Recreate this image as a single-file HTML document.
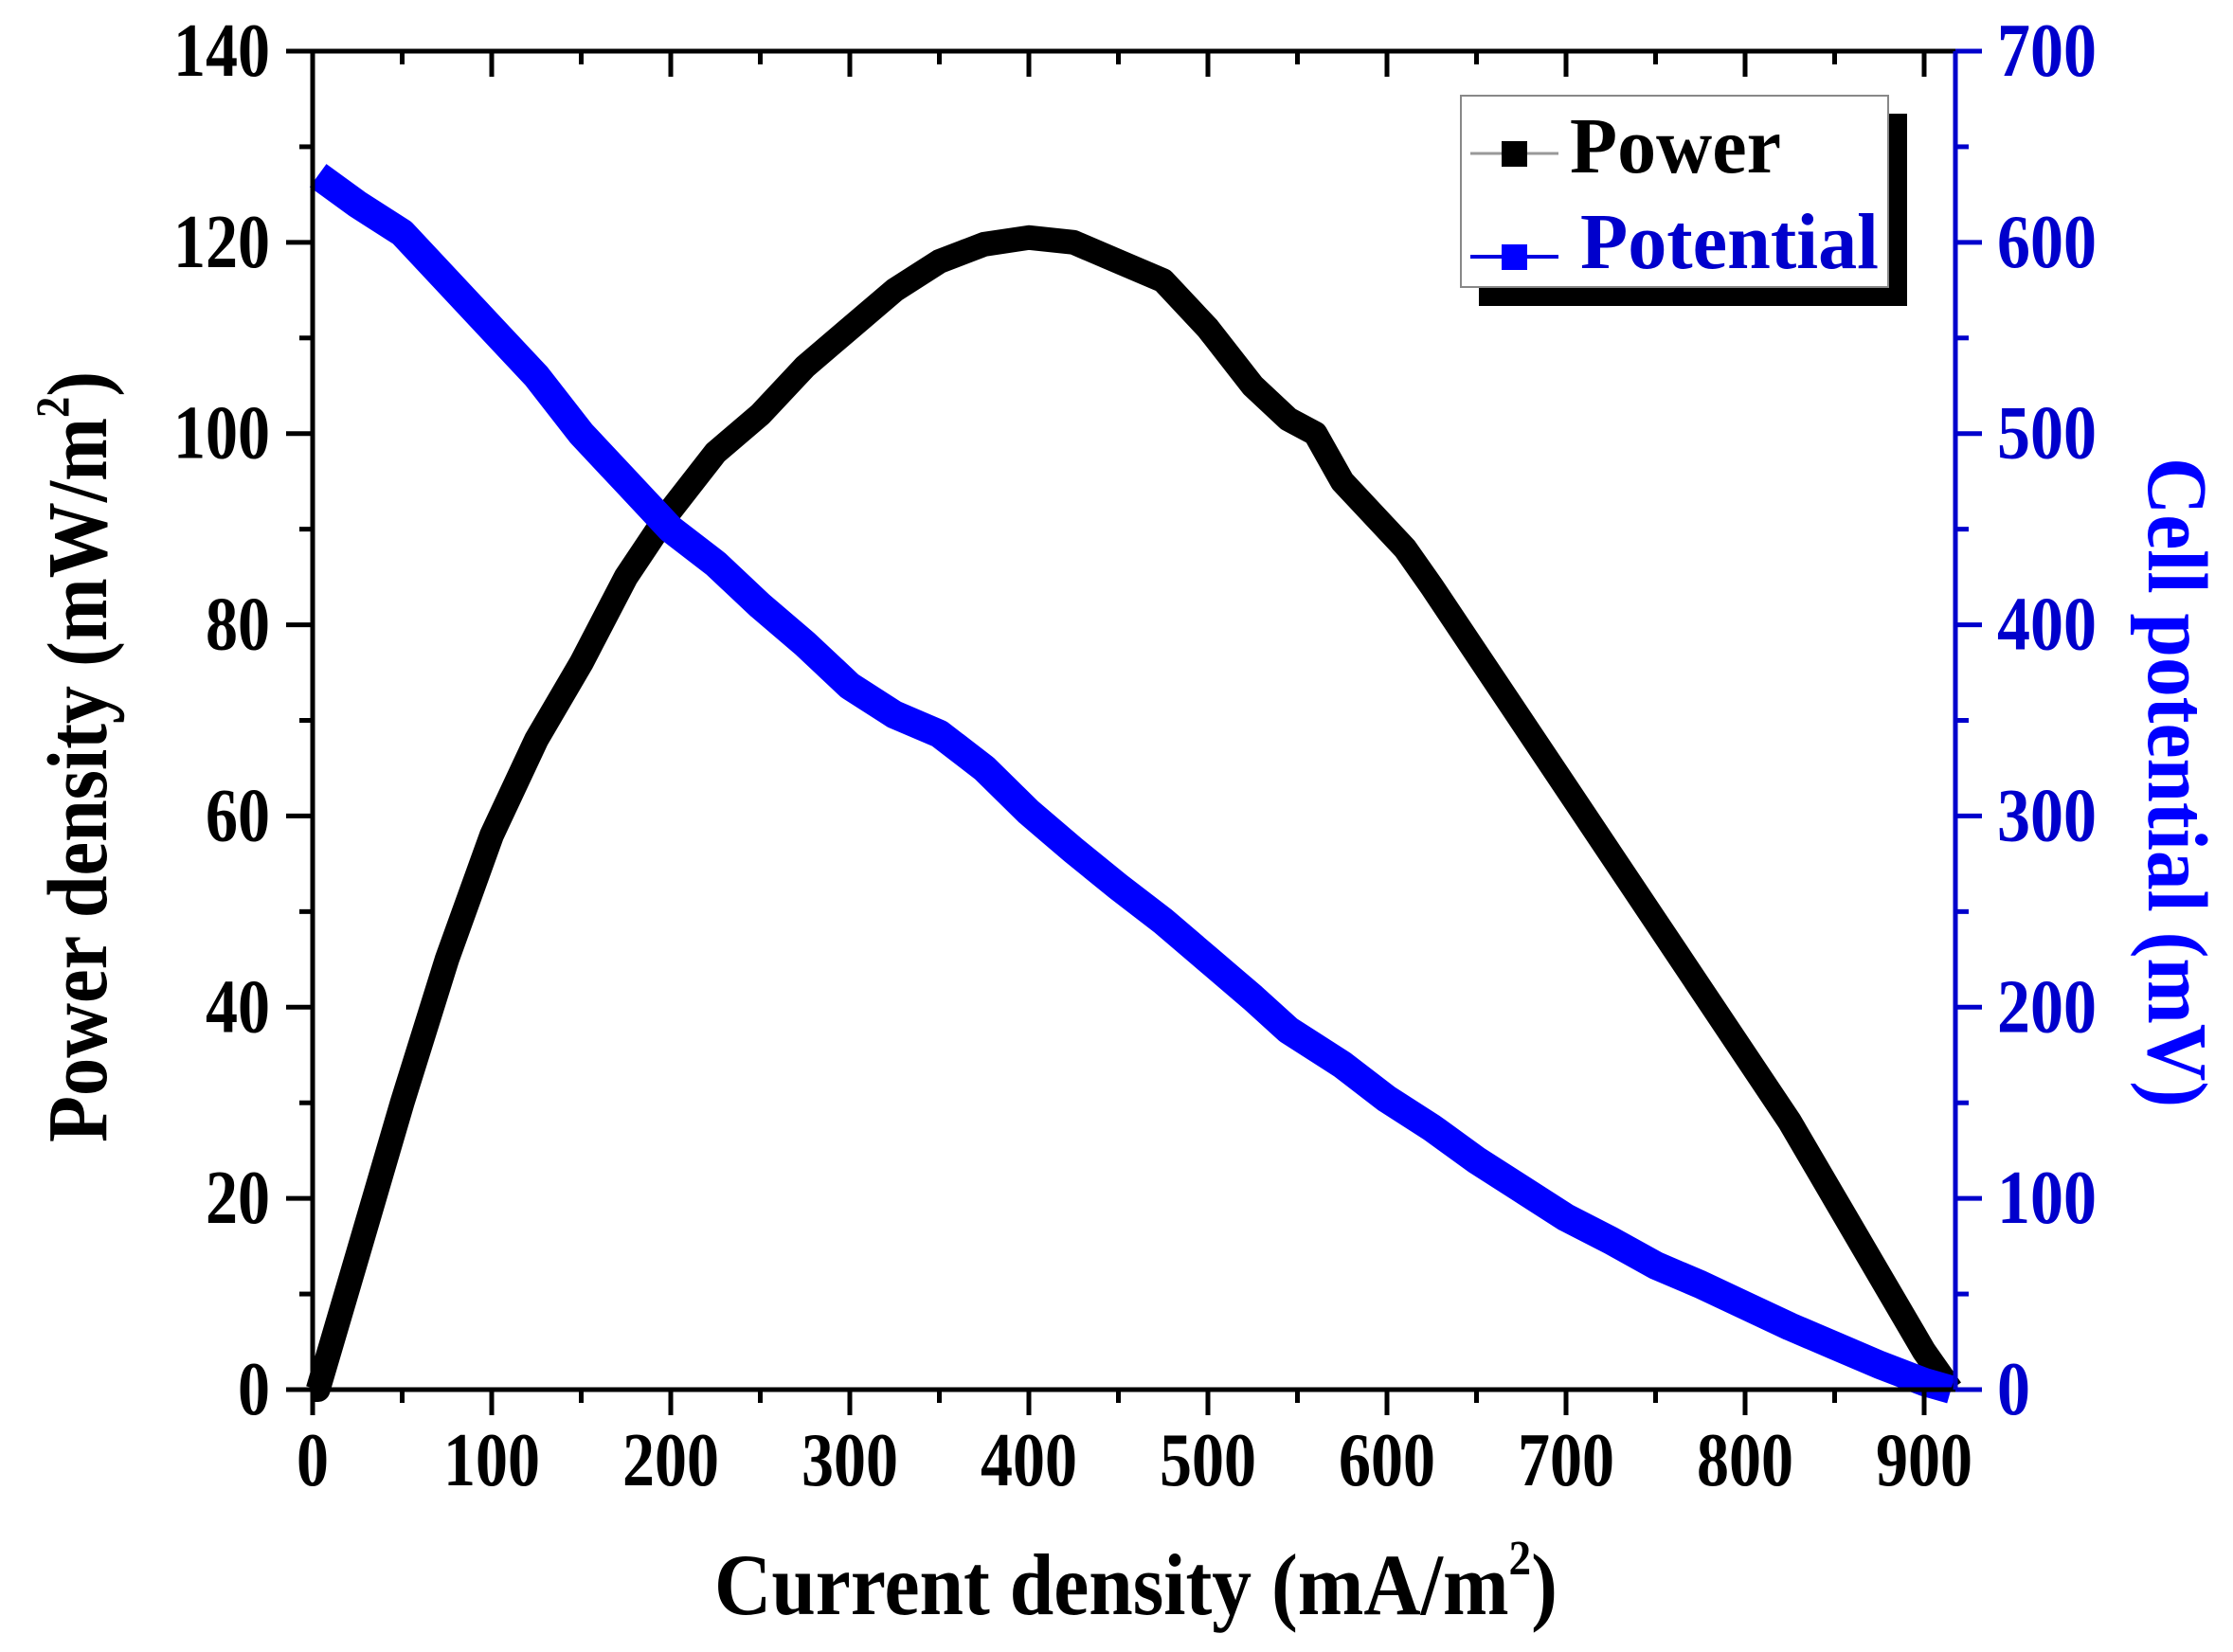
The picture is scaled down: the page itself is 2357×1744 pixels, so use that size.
<!DOCTYPE html>
<html><head><meta charset="utf-8"><style>
html,body{margin:0;padding:0;background:#fff;}
svg{display:block;}
text{font-family:"Liberation Serif",serif;font-weight:bold;}
</style></head><body>
<svg id="chart" width="2357" height="1744" viewBox="0 0 2357 1744" xmlns="http://www.w3.org/2000/svg">
<g id="series"></g>
<g id="axes"></g>
<g>
  <rect x="1561" y="120" width="452" height="203" fill="#000"/>
  <rect x="1542" y="101" width="451" height="202" fill="#fff" stroke="#888" stroke-width="2"/>
  <line x1="1552" y1="162" x2="1645" y2="162" stroke="#999" stroke-width="3"/>
  <rect x="1585" y="149" width="27" height="27" fill="#000"/>
  <text x="1657" y="182" font-size="84" textLength="223" lengthAdjust="spacingAndGlyphs" fill="#000">Power</text>
  <line x1="1552" y1="271" x2="1645" y2="271" stroke="#0000e0" stroke-width="4"/>
  <rect x="1585" y="258" width="27" height="27" fill="#0000ff"/>
  <text x="1668" y="283" font-size="84" textLength="315" lengthAdjust="spacingAndGlyphs" fill="#0000cc">Potential</text>
</g>
<text x="754" y="1704" font-size="92" textLength="890" lengthAdjust="spacingAndGlyphs">Current density (mA/m<tspan font-size="52" dy="-42">2</tspan><tspan dy="42">)</tspan></text>
<text transform="translate(112,1206) rotate(-90)" font-size="90" textLength="814" lengthAdjust="spacingAndGlyphs">Power density (mW/m<tspan font-size="50" dy="-40">2</tspan><tspan dy="40">)</tspan></text>
<text transform="translate(2268,483) rotate(90)" font-size="90" textLength="686" lengthAdjust="spacingAndGlyphs" fill="#0000ff">Cell potential (mV)</text>
</svg>
<script>
const currentX = [0,3,25,50,75,100,125,150,175,200,225,250,275,300,325,350,375,400,425,450,475,500,525,545,560,575,590,610,625,650,675,700,725,750,775,800,825,850,875,900,915];
const powerY = [0,0,14,30,45,58,68,76,85,92,98,102,107,111,115,118,119.8,120.5,120,118,116,111,105,101.5,100,95,92,88,84,77,70,63,56,49,42,35,28,20,12,4,0];
const potentialX = [3,25,50,75,100,125,150,175,200,225,250,275,300,325,350,375,400,425,450,475,500,525,545,575,600,625,650,675,700,725,750,775,800,825,850,875,900,915];
const potentialY = [635,620,605,580,555,530,500,475,450,432,410,390,368,353,343,325,302,282,263,245,225,205,188,170,152,137,120,105,90,78,65,55,44,33,23,13,4,0];
const xTicks = [0,100,200,300,400,500,600,700,800,900];
const yLeftTicks = [0,20,40,60,80,100,120,140];
const yRightTicks = [0,100,200,300,400,500,600,700];

const X0=330, X1=2064, Y0=1467, Y1=54;
const xMax=(X1-X0)/((2031-X0)/900);
const sx=v=>X0+v*(X1-X0)/xMax;
const syL=v=>Y0-v*(Y0-Y1)/140;
const syR=v=>Y0-v*(Y0-Y1)/700;
const NS='http://www.w3.org/2000/svg';
function mk(tag,attrs,parent){const e=document.createElementNS(NS,tag);for(const k in attrs)e.setAttribute(k,attrs[k]);parent.appendChild(e);return e;}
const series=document.getElementById('series');
const axes=document.getElementById('axes');

let p1=mk('polyline',{points:currentX.map((x,i)=>sx(x)+','+syL(powerY[i])).join(' '),fill:'none',stroke:'#000','stroke-width':26,'stroke-linejoin':'round'},series);


let p2=mk('polyline',{points:potentialX.map((x,i)=>sx(x)+','+syR(potentialY[i])).join(' '),fill:'none',stroke:'#0000ff','stroke-width':30,'stroke-linejoin':'round'},series);



let f;
f=mk('line',{x1:X0,y1:Y0,x2:X1,y2:Y0,stroke:'#000','stroke-width':5},axes);


f=mk('line',{x1:X0,y1:Y1,x2:X1,y2:Y1,stroke:'#000','stroke-width':5},axes);


f=mk('line',{x1:X0,y1:Y0,x2:X0,y2:Y1,stroke:'#000','stroke-width':5},axes);


f=mk('line',{x1:X1,y1:Y0,x2:X1,y2:Y1,stroke:'#0000cc','stroke-width':5},axes);



for(let v=0;v<=900;v+=50){const maj=v%100===0;const x=sx(v);
 let t=mk('line',{x1:x,y1:Y0,x2:x,y2:Y0+(maj?27:14),stroke:'#000','stroke-width':5},axes);
 
 
 let t2=mk('line',{x1:x,y1:Y1,x2:x,y2:Y1+(maj?27:14),stroke:'#000','stroke-width':5},axes);
 
 }
xTicks.forEach(v=>{const s=String(v);let t=mk('text',{x:sx(v)-s.length*17,y:1568,'font-size':80,textLength:s.length*34,lengthAdjust:'spacingAndGlyphs'},axes);t.textContent=s;
 
 });
for(let v=0;v<=140;v+=10){const maj=v%20===0;const y=syL(v);
 let t=mk('line',{x1:X0-(maj?28:14),y1:y,x2:X0,y2:y,stroke:'#000','stroke-width':5},axes);
 
 }
yLeftTicks.forEach(v=>{const s=String(v);let t=mk('text',{x:285-s.length*34,y:syL(v)+26,'font-size':80,textLength:s.length*34,lengthAdjust:'spacingAndGlyphs'},axes);t.textContent=s;
 
 });
for(let v=0;v<=700;v+=50){const maj=v%100===0;const y=syR(v);
 let t=mk('line',{x1:X1,y1:y,x2:X1+(maj?28:14),y2:y,stroke:'#0000cc','stroke-width':5},axes);
 
 }
yRightTicks.forEach(v=>{const s=String(v);let t=mk('text',{x:2108,y:syR(v)+26,'font-size':80,textLength:s.length*35,lengthAdjust:'spacingAndGlyphs',fill:'#0000cc'},axes);t.textContent=s;
 
 });
</script>
</body></html>
